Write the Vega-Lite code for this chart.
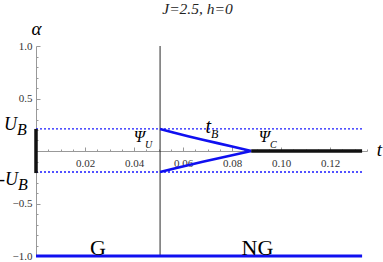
{
  "$schema": "https://vega.github.io/schema/vega-lite/v6.json",
  "width": 331,
  "height": 210,
  "autosize": {"type": "none"},
  "padding": {"left": 36, "top": 46, "right": 16, "bottom": 6},
  "background": "white",
  "config": {"view": {"stroke": null}, "axis": {"grid": false}, "font": "Liberation Serif"},
  "title": {"text": "J=2.5, h=0", "font": "Liberation Serif", "fontSize": 15.5, "fontStyle": "italic", "fontWeight": "normal", "anchor": "middle", "frame": "group", "dx": -4, "offset": 2, "color": "#222"},
  "datasets": {
    "segs": [
      {"k": "vline", "t1": 0.0506, "t2": 0.0506, "a1": -1, "a2": 1},
      {"k": "dash", "t1": 0, "t2": 0.133, "a1": 0.21, "a2": 0.21},
      {"k": "dash", "t1": 0, "t2": 0.133, "a1": -0.2, "a2": -0.2},
      {"k": "black", "t1": 0, "t2": 0, "a1": -0.21, "a2": 0.21},
      {"k": "black", "t1": 0.0878, "t2": 0.133, "a1": 0, "a2": 0},
      {"k": "blue", "t1": 0, "t2": 0.133, "a1": -1, "a2": -1}
    ],
    "curves": [
      {"c": "up", "t": 0.0506, "a": 0.21},
      {"c": "up", "t": 0.056, "a": 0.176},
      {"c": "up", "t": 0.062, "a": 0.141},
      {"c": "up", "t": 0.068, "a": 0.107},
      {"c": "up", "t": 0.074, "a": 0.075},
      {"c": "up", "t": 0.080, "a": 0.043},
      {"c": "up", "t": 0.0878, "a": 0},
      {"c": "lo", "t": 0.0506, "a": -0.2},
      {"c": "lo", "t": 0.056, "a": -0.168},
      {"c": "lo", "t": 0.062, "a": -0.135},
      {"c": "lo", "t": 0.068, "a": -0.103},
      {"c": "lo", "t": 0.074, "a": -0.072},
      {"c": "lo", "t": 0.080, "a": -0.041},
      {"c": "lo", "t": 0.0878, "a": 0}
    ],
    "labels": [
      {"g": "ub", "name": "U", "sub": "B", "t": -0.00775, "a": 0.2},
      {"g": "ub", "name": "-U", "sub": "B", "t": -0.00735, "a": -0.324},
      {"g": "psi", "name": "Ψ", "sub": "U", "t": 0.04445, "a": 0.0857},
      {"g": "psi", "name": "Ψ", "sub": "C", "t": 0.0954, "a": 0.0857},
      {"g": "tb", "name": "t", "sub": "B", "t": 0.0714, "a": 0.171},
      {"g": "reg", "name": "G", "t": 0.0253, "a": -0.99},
      {"g": "reg", "name": "NG", "t": 0.0903, "a": -0.99}
    ]
  },
  "resolve": {"axis": {"x": "independent", "y": "independent"}},
  "layer": [
    {
      "data": {"name": "segs"},
      "transform": [{"filter": "datum.k == 'vline'"}],
      "mark": {"type": "rule", "color": "#111", "strokeWidth": 0.9},
      "encoding": {
        "x": {"field": "t1", "type": "quantitative", "scale": {"domain": [0, 0.135], "nice": false, "zero": false},
          "axis": {"orient": "bottom", "offset": -105, "values": [0.02, 0.04, 0.06, 0.08, 0.1, 0.12], "format": ".2f", "tickSize": -4, "labelPadding": 10, "domainColor": "#999", "tickColor": "#999", "labelColor": "#333", "labelFont": "Liberation Serif", "labelFontSize": 11,
            "title": "t", "titleX": 343, "titleY": 4, "titleAlign": "center", "titleBaseline": "alphabetic", "titleFont": "Liberation Serif", "titleFontStyle": "italic", "titleFontWeight": "normal", "titleFontSize": 19, "titleColor": "#000"}},
        "x2": {"field": "t2"},
        "y": {"field": "a1", "type": "quantitative", "scale": {"domain": [-1, 1], "nice": false, "zero": false},
          "axis": {"orient": "left", "values": [-1, -0.5, 0.5, 1], "format": ".1f", "tickSize": -4, "labelPadding": 8, "domainColor": "#999", "tickColor": "#999", "labelColor": "#333", "labelFont": "Liberation Serif", "labelFontSize": 11,
            "title": "α", "titleAngle": 0, "titleX": 0, "titleY": -18, "titleAlign": "center", "titleBaseline": "middle", "titleFont": "Liberation Serif", "titleFontStyle": "italic", "titleFontWeight": "normal", "titleFontSize": 19, "titleColor": "#000"}},
        "y2": {"field": "a2"}
      }
    },
    {
      "data": {"name": "segs"},
      "transform": [{"filter": "datum.k == 'dash'"}],
      "mark": {"type": "rule", "color": "#1a1aff", "strokeWidth": 1.3, "strokeDash": [2, 2]},
      "encoding": {
        "x": {"field": "t1", "type": "quantitative", "scale": {"domain": [0, 0.135], "nice": false, "zero": false},
          "axis": {"orient": "bottom", "offset": -105, "values": [0.005, 0.01, 0.015, 0.025, 0.03, 0.035, 0.045, 0.05, 0.055, 0.065, 0.07, 0.075, 0.085, 0.09, 0.095, 0.105, 0.11, 0.115, 0.125, 0.13, 0.135], "tickSize": -2, "labels": false, "domain": false, "tickColor": "#999", "title": null}},
        "x2": {"field": "t2"},
        "y": {"field": "a1", "type": "quantitative", "scale": {"domain": [-1, 1], "nice": false, "zero": false},
          "axis": {"orient": "left", "values": [-0.9, -0.8, -0.7, -0.6, -0.4, -0.3, -0.2, -0.1, 0.1, 0.2, 0.3, 0.4, 0.6, 0.7, 0.8, 0.9], "tickSize": -2, "labels": false, "domain": false, "tickColor": "#999", "title": null}},
        "y2": {"field": "a2"}
      }
    },
    {
      "data": {"name": "curves"},
      "mark": {"type": "line", "color": "#1010f0", "strokeWidth": 2.6},
      "encoding": {
        "x": {"field": "t", "type": "quantitative", "scale": {"domain": [0, 0.135], "nice": false, "zero": false}, "axis": null},
        "y": {"field": "a", "type": "quantitative", "scale": {"domain": [-1, 1], "nice": false, "zero": false}, "axis": null},
        "detail": {"field": "c"}
      }
    },
    {
      "data": {"name": "segs"},
      "transform": [{"filter": "datum.k == 'black'"}],
      "mark": {"type": "rule", "color": "#111", "strokeWidth": 3.5},
      "encoding": {
        "x": {"field": "t1", "type": "quantitative", "scale": {"domain": [0, 0.135], "nice": false, "zero": false}, "axis": null},
        "x2": {"field": "t2"},
        "y": {"field": "a1", "type": "quantitative", "scale": {"domain": [-1, 1], "nice": false, "zero": false}, "axis": null},
        "y2": {"field": "a2"}
      }
    },
    {
      "data": {"name": "segs"},
      "transform": [{"filter": "datum.k == 'blue'"}],
      "mark": {"type": "rule", "color": "#1010f0", "strokeWidth": 3},
      "encoding": {
        "x": {"field": "t1", "type": "quantitative", "scale": {"domain": [0, 0.135], "nice": false, "zero": false}, "axis": null},
        "x2": {"field": "t2"},
        "y": {"field": "a1", "type": "quantitative", "scale": {"domain": [-1, 1], "nice": false, "zero": false}, "axis": null},
        "y2": {"field": "a2"}
      }
    },
    {
      "data": {"name": "labels"},
      "transform": [{"filter": "datum.g == 'ub'"}],
      "mark": {"type": "text", "font": "Liberation Serif", "fontStyle": "italic", "fontSize": 18, "align": "right", "baseline": "alphabetic", "color": "#000"},
      "encoding": {
        "x": {"field": "t", "type": "quantitative", "scale": {"domain": [0, 0.135], "nice": false, "zero": false}, "axis": null},
        "y": {"field": "a", "type": "quantitative", "scale": {"domain": [-1, 1], "nice": false, "zero": false}, "axis": null},
        "text": {"field": "name"}
      }
    },
    {
      "data": {"name": "labels"},
      "transform": [{"filter": "datum.g == 'ub'"}],
      "mark": {"type": "text", "font": "Liberation Serif", "fontStyle": "italic", "fontSize": 16, "align": "left", "baseline": "alphabetic", "dy": 5, "color": "#000"},
      "encoding": {
        "x": {"field": "t", "type": "quantitative", "scale": {"domain": [0, 0.135], "nice": false, "zero": false}, "axis": null},
        "y": {"field": "a", "type": "quantitative", "scale": {"domain": [-1, 1], "nice": false, "zero": false}, "axis": null},
        "text": {"field": "sub"}
      }
    },
    {
      "data": {"name": "labels"},
      "transform": [{"filter": "datum.g == 'psi'"}],
      "mark": {"type": "text", "font": "Liberation Serif", "fontStyle": "italic", "fontSize": 16, "align": "right", "baseline": "alphabetic", "color": "#000"},
      "encoding": {
        "x": {"field": "t", "type": "quantitative", "scale": {"domain": [0, 0.135], "nice": false, "zero": false}, "axis": null},
        "y": {"field": "a", "type": "quantitative", "scale": {"domain": [-1, 1], "nice": false, "zero": false}, "axis": null},
        "text": {"field": "name"}
      }
    },
    {
      "data": {"name": "labels"},
      "transform": [{"filter": "datum.g == 'psi'"}],
      "mark": {"type": "text", "font": "Liberation Serif", "fontStyle": "italic", "fontSize": 10, "align": "left", "baseline": "alphabetic", "dy": 6, "color": "#000"},
      "encoding": {
        "x": {"field": "t", "type": "quantitative", "scale": {"domain": [0, 0.135], "nice": false, "zero": false}, "axis": null},
        "y": {"field": "a", "type": "quantitative", "scale": {"domain": [-1, 1], "nice": false, "zero": false}, "axis": null},
        "text": {"field": "sub"}
      }
    },
    {
      "data": {"name": "labels"},
      "transform": [{"filter": "datum.g == 'tb'"}],
      "mark": {"type": "text", "font": "Liberation Serif", "fontStyle": "italic", "fontSize": 20, "align": "right", "baseline": "alphabetic", "color": "#000"},
      "encoding": {
        "x": {"field": "t", "type": "quantitative", "scale": {"domain": [0, 0.135], "nice": false, "zero": false}, "axis": null},
        "y": {"field": "a", "type": "quantitative", "scale": {"domain": [-1, 1], "nice": false, "zero": false}, "axis": null},
        "text": {"field": "name"}
      }
    },
    {
      "data": {"name": "labels"},
      "transform": [{"filter": "datum.g == 'tb'"}],
      "mark": {"type": "text", "font": "Liberation Serif", "fontStyle": "italic", "fontSize": 12, "align": "left", "baseline": "alphabetic", "dy": 5, "color": "#000"},
      "encoding": {
        "x": {"field": "t", "type": "quantitative", "scale": {"domain": [0, 0.135], "nice": false, "zero": false}, "axis": null},
        "y": {"field": "a", "type": "quantitative", "scale": {"domain": [-1, 1], "nice": false, "zero": false}, "axis": null},
        "text": {"field": "sub"}
      }
    },
    {
      "data": {"name": "labels"},
      "transform": [{"filter": "datum.g == 'reg'"}],
      "mark": {"type": "text", "font": "Liberation Serif", "fontSize": 22, "align": "center", "baseline": "alphabetic", "color": "#000"},
      "encoding": {
        "x": {"field": "t", "type": "quantitative", "scale": {"domain": [0, 0.135], "nice": false, "zero": false}, "axis": null},
        "y": {"field": "a", "type": "quantitative", "scale": {"domain": [-1, 1], "nice": false, "zero": false}, "axis": null},
        "text": {"field": "name"}
      }
    }
  ]
}
